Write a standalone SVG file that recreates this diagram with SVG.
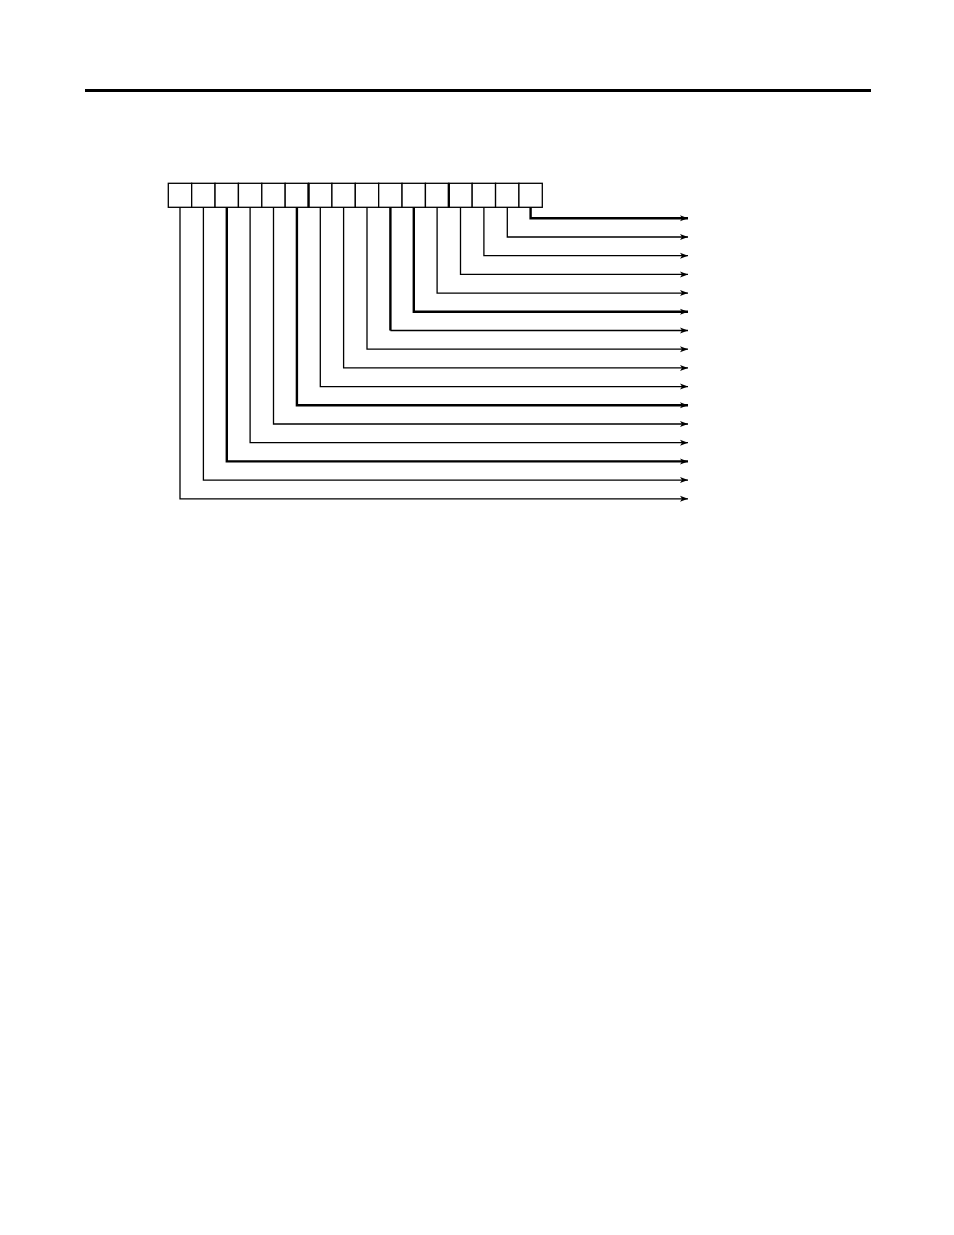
<svg xmlns="http://www.w3.org/2000/svg" width="954" height="1235" viewBox="0 0 954 1235">
<style>
.box{fill:#fff;stroke:#000;stroke-width:1.3}
.div{stroke:#000;stroke-width:2.3}
.c{fill:none;stroke:#000;stroke-width:1.3}
.t{fill:none;stroke:#000;stroke-width:2.4}
</style>
<defs>
<marker id="ah" markerUnits="userSpaceOnUse" markerWidth="10" markerHeight="8" refX="8" refY="4" orient="auto" viewBox="0 0 10 8">
<path d="M0,1 L8,4 L0,7 L2,4 Z" fill="#000"/>
</marker>
</defs>
<rect width="954" height="1235" fill="#fff"/>
<line x1="85" y1="90.5" x2="871" y2="90.5" stroke="#000" stroke-width="3"/>
<g id="register">
<rect class="box" x="168.3" y="183.3" width="23.375" height="24"/>
<rect class="box" x="191.675" y="183.3" width="23.375" height="24"/>
<rect class="box" x="215.05" y="183.3" width="23.375" height="24"/>
<rect class="box" x="238.425" y="183.3" width="23.375" height="24"/>
<rect class="box" x="261.8" y="183.3" width="23.375" height="24"/>
<rect class="box" x="285.175" y="183.3" width="23.375" height="24"/>
<rect class="box" x="308.55" y="183.3" width="23.375" height="24"/>
<rect class="box" x="331.925" y="183.3" width="23.375" height="24"/>
<rect class="box" x="355.3" y="183.3" width="23.375" height="24"/>
<rect class="box" x="378.675" y="183.3" width="23.375" height="24"/>
<rect class="box" x="402.05" y="183.3" width="23.375" height="24"/>
<rect class="box" x="425.425" y="183.3" width="23.375" height="24"/>
<rect class="box" x="448.8" y="183.3" width="23.375" height="24"/>
<rect class="box" x="472.175" y="183.3" width="23.375" height="24"/>
<rect class="box" x="495.55" y="183.3" width="23.375" height="24"/>
<rect class="box" x="518.925" y="183.3" width="23.375" height="24"/>
<line class="div" x1="308.55" y1="183.3" x2="308.55" y2="207.3"/>
<line class="div" x1="448.8" y1="183.3" x2="448.8" y2="207.3"/>
</g>
<g id="connectors">
<polyline class="t" points="530.6,207.3 530.6,218.3 688,218.3" marker-end="url(#ah)"/>
<polyline class="c" points="507.3,207.3 507.3,237 688,237" marker-end="url(#ah)"/>
<polyline class="c" points="483.9,207.3 483.9,255.7 688,255.7" marker-end="url(#ah)"/>
<polyline class="c" points="460.5,207.3 460.5,274.4 688,274.4" marker-end="url(#ah)"/>
<polyline class="c" points="437.1,207.3 437.1,293.1 688,293.1" marker-end="url(#ah)"/>
<polyline class="t" points="413.8,207.3 413.8,311.8 688,311.8" marker-end="url(#ah)"/>
<polyline class="t" points="390.4,207.3 390.4,330.5"/>
<polyline class="c" points="390.4,330.5 688,330.5" marker-end="url(#ah)"/>
<polyline class="c" points="367,207.3 367,349.2 688,349.2" marker-end="url(#ah)"/>
<polyline class="c" points="343.6,207.3 343.6,367.9 688,367.9" marker-end="url(#ah)"/>
<polyline class="c" points="320.3,207.3 320.3,386.6 688,386.6" marker-end="url(#ah)"/>
<polyline class="t" points="296.9,207.3 296.9,405.3 688,405.3" marker-end="url(#ah)"/>
<polyline class="c" points="273.5,207.3 273.5,424 688,424" marker-end="url(#ah)"/>
<polyline class="c" points="250.1,207.3 250.1,442.7 688,442.7" marker-end="url(#ah)"/>
<polyline class="t" points="226.8,207.3 226.8,461.4 688,461.4" marker-end="url(#ah)"/>
<polyline class="c" points="203.4,207.3 203.4,480.1 688,480.1" marker-end="url(#ah)"/>
<polyline class="c" points="180,207.3 180,498.8 688,498.8" marker-end="url(#ah)"/>
</g>
</svg>
